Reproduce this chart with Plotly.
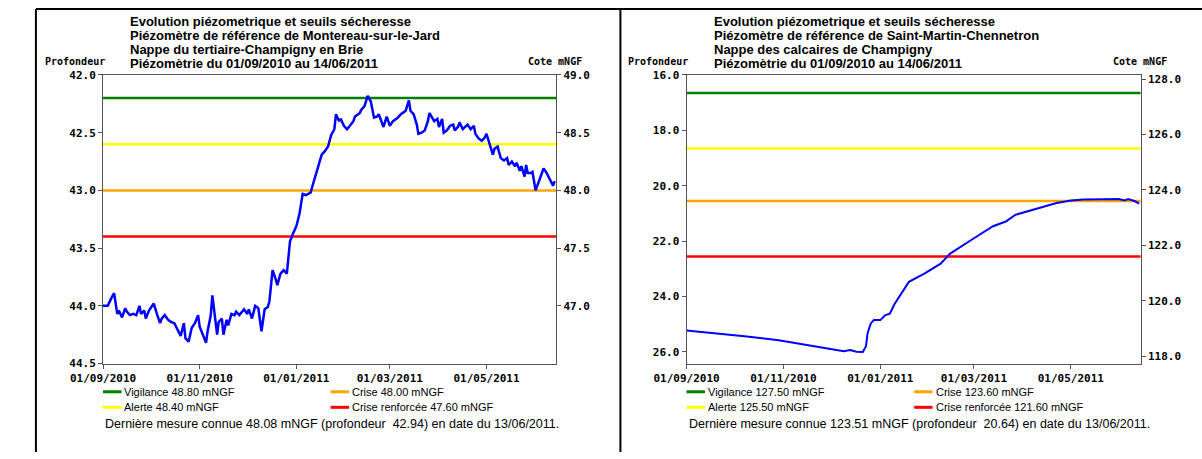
import plotly.graph_objects as go
import pandas as pd

W, H = 1202, 459

# ---------------- data ----------------
START = "2010-09-01"
END = "2011-06-14"
x_ticks = ["2010-09-01", "2010-11-01", "2011-01-01", "2011-03-01", "2011-05-01"]

# Left chart: Montereau-sur-le-Jard (cote mNGF), days since 01/09/2010
left_days = [0, 3, 5, 7, 9, 10, 12, 14, 15, 17, 19, 21, 23, 24, 26, 27, 29, 32, 34, 36,
             37, 39, 41, 43, 45, 47, 49, 51, 52, 54, 56, 58, 60, 61, 63, 65, 66, 68, 69, 70,
             72, 73, 75, 76, 78, 79, 81, 83, 84, 86, 89, 91, 92, 94, 96, 98, 100, 102, 104, 105,
             107, 109, 110, 112, 114, 116, 117, 118, 120, 122, 124, 126, 128, 131, 132, 134, 136, 138, 140, 142,
             144, 146, 147, 149, 150, 152, 154, 156, 158, 159, 162, 163, 165, 167, 169, 171, 173, 174, 176, 177,
             179, 181, 183, 186, 188, 191, 193, 194, 196, 198, 199, 201, 203, 205, 206, 208, 209, 211, 212, 214,
             215, 217, 219, 221, 222, 224, 225, 227, 229, 230, 232, 234, 235, 237, 239, 241, 242, 244, 246, 247,
             249, 251, 253, 255, 256, 258, 260, 261, 263, 264, 266, 267, 268, 270, 271, 273, 274, 276, 278, 280,
             282, 284, 285]
left_cote = [47.00, 47.00, 47.06, 47.11, 46.93, 46.96, 46.90, 46.98, 46.95, 46.92, 46.93, 46.92, 47.00, 46.93, 46.96, 46.89, 46.96, 47.02, 46.93, 46.85,
             46.89, 46.92, 46.88, 46.86, 46.85, 46.79, 46.74, 46.85, 46.72, 46.69, 46.81, 46.85, 46.92, 46.82, 46.74, 46.68, 46.78, 46.92, 47.09, 46.97,
             46.75, 46.86, 46.89, 46.75, 46.88, 46.83, 46.93, 46.92, 46.95, 46.92, 46.97, 46.93, 46.97, 46.89, 47.00, 46.98, 46.78, 46.97, 46.99, 47.04,
             47.31, 47.23, 47.18, 47.28, 47.31, 47.28, 47.44, 47.56, 47.63, 47.69, 47.80, 47.97, 47.96, 47.98, 48.03, 48.12, 48.21, 48.31, 48.34, 48.38,
             48.48, 48.53, 48.66, 48.60, 48.62, 48.56, 48.53, 48.57, 48.60, 48.64, 48.67, 48.70, 48.73, 48.82, 48.77, 48.63, 48.64, 48.66, 48.59, 48.55,
             48.64, 48.56, 48.60, 48.63, 48.66, 48.69, 48.78, 48.69, 48.66, 48.57, 48.49, 48.50, 48.52, 48.60, 48.67, 48.63, 48.60, 48.62, 48.55, 48.62,
             48.50, 48.52, 48.56, 48.57, 48.52, 48.55, 48.59, 48.53, 48.56, 48.57, 48.53, 48.56, 48.49, 48.45, 48.43, 48.46, 48.49, 48.39, 48.31, 48.36,
             48.38, 48.28, 48.26, 48.28, 48.22, 48.25, 48.21, 48.24, 48.17, 48.21, 48.12, 48.22, 48.15, 48.15, 48.16, 48.00, 48.04, 48.11, 48.19, 48.15,
             48.10, 48.04, 48.08]

# Right chart: Saint-Martin-Chennetron (cote mNGF)
right_days = [0, 17, 38, 58, 78, 89, 99, 103, 107, 111, 113, 114, 116, 118, 122, 125, 128, 131, 136, 140,
              150, 160, 166, 172, 180, 193, 201, 207, 217, 225, 233, 242, 250, 262, 272, 276, 278, 282, 285]
right_cote = [118.92, 118.83, 118.71, 118.57, 118.39, 118.28, 118.18, 118.22, 118.16, 118.15, 118.36, 118.83, 119.18, 119.30, 119.30, 119.47, 119.53, 119.88, 120.35, 120.68,
              120.99, 121.34, 121.70, 121.93, 122.22, 122.69, 122.86, 123.10, 123.27, 123.41, 123.53, 123.62, 123.65, 123.66, 123.67, 123.62, 123.67, 123.60, 123.51]

# Titles
left_title = ["Evolution piézometrique et seuils sécheresse",
              "Piézomètre de référence de Montereau-sur-le-Jard",
              "Nappe du tertiaire-Champigny en Brie",
              "Piézomètrie du 01/09/2010 au 14/06/2011"]
right_title = ["Evolution piézometrique et seuils sécheresse",
               "Piézomètre de référence de Saint-Martin-Chennetron",
               "Nappe des calcaires de Champigny",
               "Piézomètrie du 01/09/2010 au 14/06/2011"]

# Thresholds
threshold_names = ["Vigilance", "Alerte", "Crise", "Crise renforcée"]
threshold_colors = ["#008000", "#FFFF00", "#FFA500", "#FF0000"]
left_thresholds = [48.80, 48.40, 48.00, 47.60]
right_thresholds = [127.50, 125.50, 123.60, 121.60]

# Axis ranges / ticks
left_prof_range = [44.5, 42.0]
left_prof_ticks = [42.0, 42.5, 43.0, 43.5, 44.0, 44.5]
left_cote_range = [46.5, 49.0]
left_cote_ticks = [47.0, 47.5, 48.0, 48.5, 49.0]
right_prof_range = [26.42, 16.0]
right_prof_ticks = [16.0, 18.0, 20.0, 22.0, 24.0, 26.0]
right_cote_range = [117.73, 128.15]
right_cote_ticks = [118.0, 120.0, 122.0, 124.0, 126.0, 128.0]

# Last measures
left_last = (48.08, 42.94, "13/06/2011")
right_last = (123.51, 20.64, "13/06/2011")

# ---------------- figure ----------------
def px(x):
    return x / W

def py(y):
    return 1 - y / H

TICKFONT = dict(family="DejaVu Sans Mono", size=11, color="#000", weight="bold")
AXCOL = "#555555"
TITLEFONT = dict(family="Liberation Sans", size=13, color="#000", weight="bold")
LEGFONT = dict(family="Liberation Sans", size=11, color="#000")
NOTEFONT = dict(family="Liberation Sans", size=12.5, color="#000")
LABFONT = dict(family="DejaVu Sans Mono", size=10, color="#000", weight="bold")

fig = go.Figure()

panels = [
    dict(x0=72, x1=538, xa="x", ya_p="y", ya_c="y2", days=left_days, cote=left_cote,
         thr=left_thresholds, width=2.5, title=left_title, tx=98, last=left_last,
         prange=left_prof_range, pticks=left_prof_ticks, crange=left_cote_range, cticks=left_cote_ticks),
    dict(x0=672, x1=1139, xa="x2", ya_p="y3", ya_c="y4", days=right_days, cote=right_cote,
         thr=right_thresholds, width=2, title=right_title, tx=698, last=right_last,
         prange=right_prof_range, pticks=right_prof_ticks, crange=right_cote_range, cticks=right_cote_ticks),
]

annotations = []
shapes = []
start = pd.Timestamp(START)
tickdates = [pd.Timestamp(t) for t in x_ticks]

for i, p in enumerate(panels):
    dates = start + pd.to_timedelta(p["days"], unit="D")
    for name, col, v in zip(threshold_names, threshold_colors, p["thr"]):
        fig.add_trace(go.Scatter(x=[START, END], y=[v, v], mode="lines",
                                 line=dict(color=col, width=2.5), xaxis=p["xa"], yaxis=p["ya_c"],
                                 showlegend=False, hoverinfo="skip"))
    fig.add_trace(go.Scatter(x=dates, y=p["cote"], mode="lines",
                             line=dict(color="#0000FF", width=p["width"]),
                             xaxis=p["xa"], yaxis=p["ya_c"], showlegend=False))
    fig.add_trace(go.Scatter(x=[START], y=[p["pticks"][0]], mode="markers", opacity=0,
                             xaxis=p["xa"], yaxis=p["ya_p"], showlegend=False, hoverinfo="skip"))

    xdom = [px(p["x0"]), px(p["x1"])]
    ydom = [py(368), py(71)]
    xk = "xaxis" if i == 0 else "xaxis2"
    ypk = "yaxis" if i == 0 else "yaxis3"
    yck = "yaxis2" if i == 0 else "yaxis4"
    fig.update_layout(**{
        xk: dict(domain=xdom, anchor=p["ya_p"], range=[START, END], type="date",
                 tickvals=tickdates, ticktext=[d.strftime("%d/%m/%Y") for d in tickdates],
                 showgrid=False, zeroline=False, showline=True, linecolor=AXCOL, mirror=True,
                 ticks="outside", ticklen=4, tickcolor=AXCOL, tickfont=TICKFONT),
        ypk: dict(domain=ydom, anchor=p["xa"], range=p["prange"], tickvals=p["pticks"],
                  tickformat=".1f", showgrid=False, zeroline=False, showline=True,
                  linecolor=AXCOL, ticks="outside", ticklen=4, tickcolor=AXCOL, tickfont=TICKFONT),
        yck: dict(overlaying=p["ya_p"], side="right", anchor=p["xa"], range=p["crange"],
                  tickvals=p["cticks"], tickformat=".1f", showgrid=False, zeroline=False,
                  showline=True, linecolor=AXCOL, ticks="outside", ticklen=4, tickcolor=AXCOL,
                  tickfont=TICKFONT),
    })

    for k, line in enumerate(p["title"]):
        annotations.append(dict(text=line, xref="paper", yref="paper", x=px(p["tx"]),
                                y=py(16 + 14.5 * k), xanchor="left", yanchor="middle",
                                showarrow=False, font=TITLEFONT))
    annotations.append(dict(text="Profondeur", xref="paper", yref="paper", x=px(p["x0"] + 4),
                            y=py(57), xanchor="right", yanchor="middle", showarrow=False,
                            font=LABFONT))
    annotations.append(dict(text="Cote mNGF", xref="paper", yref="paper", x=px(p["x1"] + 29),
                            y=py(57), xanchor="right", yanchor="middle", showarrow=False,
                            font=LABFONT))
    lx = p["x0"]
    pos = [(lx, 397), (lx, 413), (lx + 234, 397), (lx + 234, 413)]
    for (xx, yy), name, col, v in zip(pos, threshold_names, threshold_colors, p["thr"]):
        shapes.append(dict(type="line", xref="paper", yref="paper", x0=px(xx), x1=px(xx + 19),
                           y0=py(yy), y1=py(yy), line=dict(color=col, width=3)))
        annotations.append(dict(text=f"{name} {v:.2f} mNGF", xref="paper", yref="paper",
                                x=px(xx + 20), y=py(yy), xanchor="left", yanchor="middle",
                                showarrow=False, font=LEGFONT))
    c, pr, d = p["last"]
    annotations.append(dict(text=f"Dernière mesure connue {c:.2f} mNGF (profondeur  {pr:.2f}) en date du {d}.",
                            xref="paper", yref="paper", x=px(lx), y=py(430), xanchor="left",
                            yanchor="middle", showarrow=False, font=NOTEFONT))

shapes.append(dict(type="line", xref="paper", yref="paper", x0=px(3), x1=1, y0=py(3), y1=py(3),
                   line=dict(color="#000", width=2)))
shapes.append(dict(type="line", xref="paper", yref="paper", x0=px(3), x1=px(3), y0=0, y1=py(3),
                   line=dict(color="#000", width=2)))
shapes.append(dict(type="line", xref="paper", yref="paper", x0=px(604), x1=px(604), y0=0, y1=py(3),
                   line=dict(color="#000", width=2)))

fig.update_layout(width=W, height=H, margin=dict(l=0, r=0, t=0, b=0),
                  paper_bgcolor="white", plot_bgcolor="white",
                  annotations=annotations, shapes=shapes, showlegend=False)

fig.write_html("out.html", config={"displayModeBar": False},
               post_script="document.body.style.margin='0';document.body.style.padding='0';")
